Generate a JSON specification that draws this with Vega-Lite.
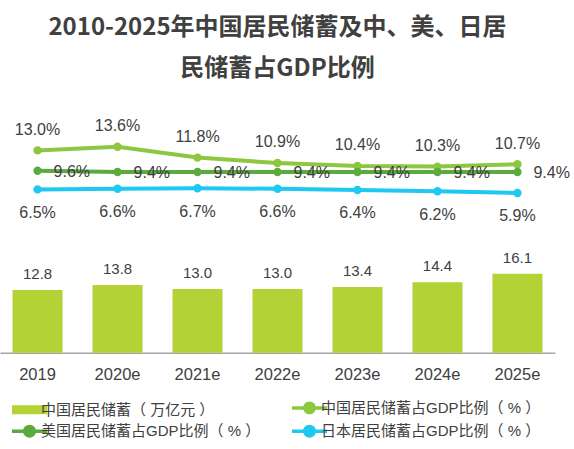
{
  "$schema": "https://vega.github.io/schema/vega-lite/v6.json",
  "width": 555,
  "height": 252.7,
  "autosize": {"type": "none"},
  "padding": {"left": 0, "top": 100, "right": 19, "bottom": 96.3},
  "background": "white",
  "config": {
    "view": {"stroke": null},
    "font": "Liberation Sans, Noto Sans CJK SC",
    "text": {"font": "Liberation Sans", "color": "#404040"}
  },
  "title": {
    "text": ["2010-2025年中国居民储蓄及中、美、日居", "民储蓄占GDP比例"],
    "font": "Noto Sans CJK SC",
    "fontSize": 24,
    "fontWeight": "bold",
    "color": "#404040",
    "lineHeight": 41,
    "anchor": "middle",
    "offset": 19
  },
  "data": {
    "values": [
      {"year": "2019", "series": "中国居民储蓄（万亿元）", "value": 12.8},
      {"year": "2020e", "series": "中国居民储蓄（万亿元）", "value": 13.8},
      {"year": "2021e", "series": "中国居民储蓄（万亿元）", "value": 13.0},
      {"year": "2022e", "series": "中国居民储蓄（万亿元）", "value": 13.0},
      {"year": "2023e", "series": "中国居民储蓄（万亿元）", "value": 13.4},
      {"year": "2024e", "series": "中国居民储蓄（万亿元）", "value": 14.4},
      {"year": "2025e", "series": "中国居民储蓄（万亿元）", "value": 16.1},
      {"year": "2019", "series": "中国居民储蓄占GDP比例（%）", "value": 0.130},
      {"year": "2020e", "series": "中国居民储蓄占GDP比例（%）", "value": 0.136},
      {"year": "2021e", "series": "中国居民储蓄占GDP比例（%）", "value": 0.118},
      {"year": "2022e", "series": "中国居民储蓄占GDP比例（%）", "value": 0.109},
      {"year": "2023e", "series": "中国居民储蓄占GDP比例（%）", "value": 0.104},
      {"year": "2024e", "series": "中国居民储蓄占GDP比例（%）", "value": 0.103},
      {"year": "2025e", "series": "中国居民储蓄占GDP比例（%）", "value": 0.107},
      {"year": "2019", "series": "美国居民储蓄占GDP比例（%）", "value": 0.096},
      {"year": "2020e", "series": "美国居民储蓄占GDP比例（%）", "value": 0.094},
      {"year": "2021e", "series": "美国居民储蓄占GDP比例（%）", "value": 0.094},
      {"year": "2022e", "series": "美国居民储蓄占GDP比例（%）", "value": 0.094},
      {"year": "2023e", "series": "美国居民储蓄占GDP比例（%）", "value": 0.094},
      {"year": "2024e", "series": "美国居民储蓄占GDP比例（%）", "value": 0.094},
      {"year": "2025e", "series": "美国居民储蓄占GDP比例（%）", "value": 0.094},
      {"year": "2019", "series": "日本居民储蓄占GDP比例（%）", "value": 0.065},
      {"year": "2020e", "series": "日本居民储蓄占GDP比例（%）", "value": 0.066},
      {"year": "2021e", "series": "日本居民储蓄占GDP比例（%）", "value": 0.067},
      {"year": "2022e", "series": "日本居民储蓄占GDP比例（%）", "value": 0.066},
      {"year": "2023e", "series": "日本居民储蓄占GDP比例（%）", "value": 0.064},
      {"year": "2024e", "series": "日本居民储蓄占GDP比例（%）", "value": 0.062},
      {"year": "2025e", "series": "日本居民储蓄占GDP比例（%）", "value": 0.059}
    ]
  },
  "encoding": {
    "x": {
      "field": "year",
      "type": "ordinal",
      "sort": null,
      "scale": {"paddingInner": 0.375, "paddingOuter": 0.157},
      "axis": {
        "title": null,
        "labelAngle": 0,
        "labelFont": "Liberation Sans",
        "labelFontSize": 16.5,
        "labelColor": "#404040",
        "labelPadding": 14,
        "ticks": false,
        "domainColor": "#a6a6a6",
        "domainWidth": 1.5
      }
    }
  },
  "layer": [
    {
      "transform": [{"filter": "datum.series === '中国居民储蓄（万亿元）'"}],
      "mark": {"type": "bar"},
      "encoding": {
        "y": {"field": "value", "type": "quantitative", "scale": {"domain": [0, 51.57], "nice": false}, "axis": null},
        "color": {
          "field": "series",
          "type": "nominal",
          "scale": {
            "domain": ["中国居民储蓄（万亿元）", "中国居民储蓄占GDP比例（%）", "美国居民储蓄占GDP比例（%）", "日本居民储蓄占GDP比例（%）"],
            "range": ["#b2d235", "#8dc63f", "#5aaa3e", "#1ec8f3"]
          },
          "legend": {
            "title": null,
            "orient": "none",
            "legendX": 22,
            "legendY": 300,
            "columns": 2,
            "direction": "horizontal",
            "symbolSize": 1225,
            "labelFont": "Liberation Sans, Noto Sans CJK SC",
            "labelFontSize": 15,
            "labelColor": "#404040",
            "labelLimit": 400,
            "labelOffset": 4,
            "labelExpr": "replace(replace(datum.label, '（', '（ '), '）', ' ）')",
            "rowPadding": -1.3,
            "columnPadding": 24,
            "encode": {
              "symbols": {
                "update": {
                  "shape": {"signal": "datum.value === '中国居民储蓄（万亿元）' ? 'M-1,-0.26H1V0.26H-1Z' : 'M-1,0H1M0.27,0A0.27,0.27,0,1,1,-0.27,0A0.27,0.27,0,1,1,0.27,0Z'"},
                  "fill": {"scale": "color", "field": "value"},
                  "stroke": {"scale": "color", "field": "value"},
                  "strokeWidth": {"signal": "datum.value === '中国居民储蓄（万亿元）' ? 0 : 3.5"},
                  "opacity": {"value": 1},
                  "size": {"value": 1225}
                }
              }
            }
          }
        }
      }
    },
    {
      "transform": [{"filter": "datum.series === '中国居民储蓄（万亿元）'"}],
      "mark": {"type": "text", "fontSize": 15, "baseline": "alphabetic", "dy": -11, "color": "#404040"},
      "encoding": {
        "y": {"field": "value", "type": "quantitative", "scale": {"domain": [0, 51.57], "nice": false}, "axis": null},
        "text": {"field": "value", "type": "quantitative", "format": ".1f"}
      }
    },
    {
      "transform": [{"filter": "datum.series !== '中国居民储蓄（万亿元）'"}],
      "mark": {"type": "line", "strokeWidth": 4, "point": {"filled": true, "size": 70, "opacity": 1}},
      "encoding": {
        "y": {"field": "value", "type": "quantitative", "scale": {"domain": [-0.2072, 0.214], "nice": false, "zero": false}, "axis": null},
        "color": {"field": "series", "type": "nominal"}
      }
    },
    {
      "transform": [{"filter": "datum.series === '中国居民储蓄占GDP比例（%）'"}],
      "mark": {"type": "text", "fontSize": 16, "baseline": "alphabetic", "dy": -15.5, "color": "#404040"},
      "encoding": {
        "y": {"field": "value", "type": "quantitative", "scale": {"domain": [-0.2072, 0.214], "nice": false, "zero": false}, "axis": null},
        "text": {"field": "value", "type": "quantitative", "format": ".1%"}
      }
    },
    {
      "transform": [{"filter": "datum.series === '美国居民储蓄占GDP比例（%）'"}],
      "mark": {"type": "text", "fontSize": 16, "baseline": "alphabetic", "align": "left", "dx": 16, "dy": 6.5, "color": "#404040"},
      "encoding": {
        "y": {"field": "value", "type": "quantitative", "scale": {"domain": [-0.2072, 0.214], "nice": false, "zero": false}, "axis": null},
        "text": {"field": "value", "type": "quantitative", "format": ".1%"}
      }
    },
    {
      "transform": [{"filter": "datum.series === '日本居民储蓄占GDP比例（%）'"}],
      "mark": {"type": "text", "fontSize": 16, "baseline": "alphabetic", "dy": 28.5, "color": "#404040"},
      "encoding": {
        "y": {"field": "value", "type": "quantitative", "scale": {"domain": [-0.2072, 0.214], "nice": false, "zero": false}, "axis": null},
        "text": {"field": "value", "type": "quantitative", "format": ".1%"}
      }
    }
  ],
  "resolve": {"scale": {"y": "independent"}}
}
